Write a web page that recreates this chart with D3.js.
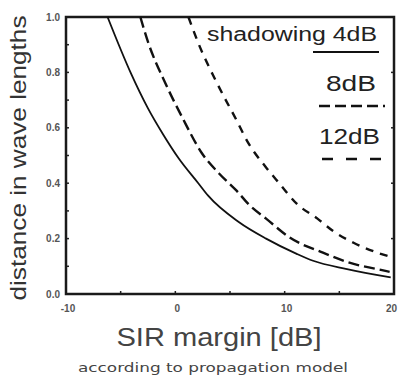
<!DOCTYPE html>
<html>
<head>
<meta charset="utf-8">
<script src="https://cdn.jsdelivr.net/npm/d3@7"></script>
<style>
  body { margin: 0; background: #fff; }
  svg { display: block; }
  text { font-family: "Liberation Sans", Arial, sans-serif; fill: #222; }
</style>
</head>
<body>
<svg id="chart" width="398" height="376"></svg>
<script>
// values
const sir4 = [-6.2, -4.1, -2.5, -1.1, 0.3, 2.1, 3.0, 5.8, 8.3, 11.1, 12.6, 15.7, 19.7];
const dist4 = [1.0, 0.80, 0.67, 0.575, 0.49, 0.40, 0.355, 0.26, 0.20, 0.145, 0.12, 0.09, 0.06];
const sir8 = [-3.2, -2.5, -0.9, 0.6, 2.4, 4.0, 5.6, 6.8, 8.3, 10.5, 13.5, 16.0, 18.8, 19.6];
const dist8 = [1.0, 0.91, 0.76, 0.64, 0.51, 0.435, 0.373, 0.32, 0.272, 0.203, 0.149, 0.112, 0.087, 0.08];
const sir12 = [1.2, 2.1, 3.7, 5.6, 6.6, 8.3, 9.5, 11.1, 13.0, 14.4, 16.3, 18.5, 19.6];
const dist12 = [1.0, 0.906, 0.77, 0.627, 0.55, 0.457, 0.40, 0.326, 0.272, 0.228, 0.185, 0.149, 0.135];
const xTicks = [-10, 0, 10, 20];
const yTicks = [0, 0.2, 0.4, 0.6, 0.8, 1.0];
const legendLabels = ["shadowing 4dB", "8dB", "12dB"];

const svg = d3.select("#chart");
const x = d3.scaleLinear().domain([-10, 20]).range([66, 394]);
const y = d3.scaleLinear().domain([0, 1]).range([294, 17]);

const series = [
  {xs: sir4, ys: dist4, dash: null, w: 1.8},
  {xs: sir8, ys: dist8, dash: "11,5", w: 2.4},
  {xs: sir12, ys: dist12, dash: "8,7", w: 2.4}
];

// minor ticks
const g = svg.append("g");
d3.range(0, 1.01, 0.1).forEach(v => {
  g.append("line").attr("x1", x(-10)).attr("x2", x(-10) + 3)
    .attr("y1", y(v)).attr("y2", y(v)).attr("stroke", "#222").attr("stroke-width", 1.5);
});
d3.range(0.2, 1.0, 0.2).forEach(v => {
  g.append("line").attr("x1", x(20)).attr("x2", x(20) - 3)
    .attr("y1", y(v)).attr("y2", y(v)).attr("stroke", "#222").attr("stroke-width", 1.5);
});
d3.range(-5, 20, 5).forEach(v => {
  g.append("line").attr("x1", x(v)).attr("x2", x(v))
    .attr("y1", y(0)).attr("y2", y(0) - 3).attr("stroke", "#222").attr("stroke-width", 1.5);
});

// frame
svg.append("rect")
  .attr("x", x(-10)).attr("y", y(1))
  .attr("width", x(20) - x(-10)).attr("height", y(0) - y(1))
  .attr("fill", "none").attr("stroke", "#1a1a1a").attr("stroke-width", 2.5);

// tick labels
svg.selectAll(".ylab").data(yTicks).enter().append("text")
  .attr("x", x(-10) - 6).attr("y", d => y(d) + 3.5)
  .attr("text-anchor", "end")
  .style("font-size", "10px").style("font-weight", "bold").style("fill", "#555")
  .text(d => d.toFixed(1));
svg.selectAll(".xlab").data(xTicks).enter().append("text")
  .attr("x", d => d === 20 ? 397 : x(d) + 2).attr("y", y(0) + 18)
  .attr("text-anchor", d => d === 20 ? "end" : "middle")
  .style("font-size", "10px").style("font-weight", "bold").style("fill", "#555")
  .text(d => d);

// curves
const line = d3.line()
  .x(d => x(d[0]))
  .y(d => y(d[1]))
  .curve(d3.curveMonotoneX);

series.forEach(s => {
  svg.append("path")
    .datum(s.xs.map((v, i) => [v, s.ys[i]]))
    .attr("d", line)
    .attr("fill", "none")
    .attr("stroke", "#111")
    .attr("stroke-width", s.w)
    .attr("stroke-dasharray", s.dash);
});

// legend
svg.append("text").attr("x", 207).attr("y", 41)
  .attr("textLength", 170).attr("lengthAdjust", "spacingAndGlyphs")
  .style("font-size", "20px").text(legendLabels[0]);
svg.append("line").attr("x1", 313).attr("x2", 379).attr("y1", 52).attr("y2", 52)
  .attr("stroke", "#111").attr("stroke-width", 2);
svg.append("text").attr("x", 326).attr("y", 91)
  .attr("textLength", 50).attr("lengthAdjust", "spacingAndGlyphs")
  .style("font-size", "22px").text(legendLabels[1]);
svg.append("line").attr("x1", 319).attr("x2", 385).attr("y1", 106).attr("y2", 106)
  .attr("stroke", "#111").attr("stroke-width", 2.4).attr("stroke-dasharray", "11,5");
svg.append("text").attr("x", 319).attr("y", 144)
  .attr("textLength", 61).attr("lengthAdjust", "spacingAndGlyphs")
  .style("font-size", "22px").text(legendLabels[2]);
svg.append("line").attr("x1", 322).attr("x2", 385).attr("y1", 159).attr("y2", 159)
  .attr("stroke", "#111").attr("stroke-width", 2.4).attr("stroke-dasharray", "11,13");

// axis titles
svg.append("text")
  .attr("transform", "translate(26,158) rotate(-90)")
  .attr("text-anchor", "middle")
  .attr("textLength", 285).attr("lengthAdjust", "spacingAndGlyphs")
  .style("font-size", "22px").style("fill", "#333")
  .text("distance in wave lengths");
svg.append("text")
  .attr("x", 219).attr("y", 346)
  .attr("text-anchor", "middle")
  .attr("textLength", 205).attr("lengthAdjust", "spacingAndGlyphs")
  .style("font-size", "26px").style("fill", "#444")
  .text("SIR margin [dB]");
svg.append("text")
  .attr("x", 213).attr("y", 372)
  .attr("text-anchor", "middle")
  .attr("textLength", 270).attr("lengthAdjust", "spacingAndGlyphs")
  .style("font-family", "'DejaVu Sans', sans-serif")
  .style("font-size", "13px").style("fill", "#444")
  .text("according to propagation model");
</script>
</body>
</html>
